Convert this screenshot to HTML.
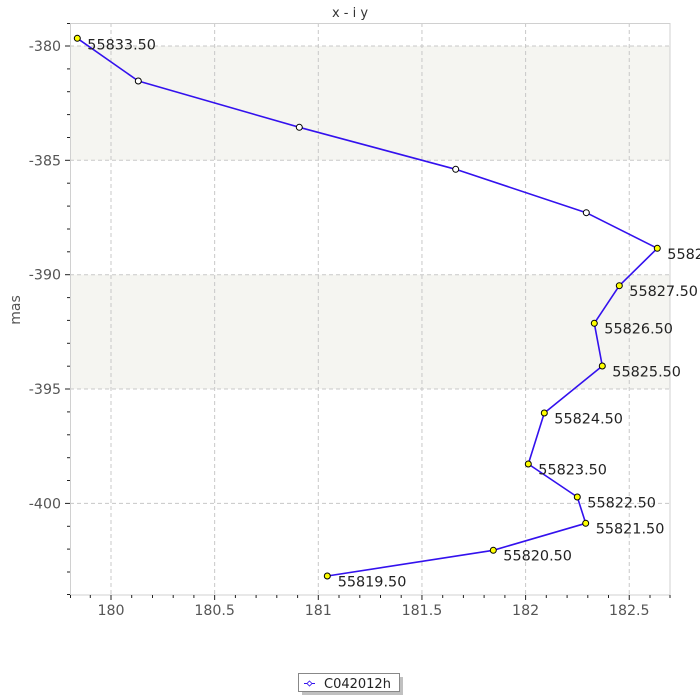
<!DOCTYPE html>
<html><head><meta charset="utf-8"><style>
html,body{margin:0;padding:0;background:#fff;}
svg{display:block;}
text{font-family:"DejaVu Sans","Liberation Sans",sans-serif;}
</style></head><body>
<svg width="700" height="700" viewBox="0 0 700 700" xmlns="http://www.w3.org/2000/svg">
<rect x="0" y="0" width="700" height="700" fill="#fff"/>
<text x="350" y="17" font-size="13" fill="#333" text-anchor="middle">x - i y</text>
<!-- bands -->
<rect x="70" y="46" width="600" height="114.3" fill="#f5f5f1"/>
<rect x="70" y="274.7" width="600" height="114.3" fill="#f5f5f1"/>
<!-- grid -->
<g stroke="#c8c8c8" stroke-width="1" stroke-dasharray="4,3" fill="none">
<line x1="111" y1="23" x2="111" y2="595"/>
<line x1="214.65" y1="23" x2="214.65" y2="595"/>
<line x1="318.3" y1="23" x2="318.3" y2="595"/>
<line x1="421.95" y1="23" x2="421.95" y2="595"/>
<line x1="525.6" y1="23" x2="525.6" y2="595"/>
<line x1="629.25" y1="23" x2="629.25" y2="595"/>
<line x1="70" y1="46" x2="670" y2="46"/>
<line x1="70" y1="160.3" x2="670" y2="160.3"/>
<line x1="70" y1="274.7" x2="670" y2="274.7"/>
<line x1="70" y1="389" x2="670" y2="389"/>
<line x1="70" y1="503.4" x2="670" y2="503.4"/>
</g>
<rect x="70.5" y="23.5" width="599.5" height="571.5" fill="none" stroke="#d0d0d0" stroke-width="1"/>
<!-- y ticks -->
<g stroke="#222" stroke-width="1">
<line x1="67" y1="23.5" x2="70" y2="23.5"/>
<line x1="65" y1="46" x2="70" y2="46"/>
<line x1="67" y1="68.9" x2="70" y2="68.9"/>
<line x1="67" y1="91.7" x2="70" y2="91.7"/>
<line x1="67" y1="114.6" x2="70" y2="114.6"/>
<line x1="67" y1="137.5" x2="70" y2="137.5"/>
<line x1="65" y1="160.3" x2="70" y2="160.3"/>
<line x1="67" y1="183.2" x2="70" y2="183.2"/>
<line x1="67" y1="206.1" x2="70" y2="206.1"/>
<line x1="67" y1="229" x2="70" y2="229"/>
<line x1="67" y1="251.8" x2="70" y2="251.8"/>
<line x1="65" y1="274.7" x2="70" y2="274.7"/>
<line x1="67" y1="297.6" x2="70" y2="297.6"/>
<line x1="67" y1="320.4" x2="70" y2="320.4"/>
<line x1="67" y1="343.3" x2="70" y2="343.3"/>
<line x1="67" y1="366.2" x2="70" y2="366.2"/>
<line x1="65" y1="389" x2="70" y2="389"/>
<line x1="67" y1="411.9" x2="70" y2="411.9"/>
<line x1="67" y1="434.8" x2="70" y2="434.8"/>
<line x1="67" y1="457.7" x2="70" y2="457.7"/>
<line x1="67" y1="480.5" x2="70" y2="480.5"/>
<line x1="65" y1="503.4" x2="70" y2="503.4"/>
<line x1="67" y1="526.3" x2="70" y2="526.3"/>
<line x1="67" y1="549.1" x2="70" y2="549.1"/>
<line x1="67" y1="572" x2="70" y2="572"/>
<line x1="67" y1="594.5" x2="70" y2="594.5"/>
</g>
<!-- x ticks -->
<g stroke="#222" stroke-width="1">
<line x1="70.5" y1="595" x2="70.5" y2="598"/>
<line x1="90.3" y1="595" x2="90.3" y2="598"/>
<line x1="111" y1="595" x2="111" y2="600"/>
<line x1="131.7" y1="595" x2="131.7" y2="598"/>
<line x1="152.5" y1="595" x2="152.5" y2="598"/>
<line x1="173.2" y1="595" x2="173.2" y2="598"/>
<line x1="193.9" y1="595" x2="193.9" y2="598"/>
<line x1="214.65" y1="595" x2="214.65" y2="600"/>
<line x1="235.4" y1="595" x2="235.4" y2="598"/>
<line x1="256.1" y1="595" x2="256.1" y2="598"/>
<line x1="276.8" y1="595" x2="276.8" y2="598"/>
<line x1="297.6" y1="595" x2="297.6" y2="598"/>
<line x1="318.3" y1="595" x2="318.3" y2="600"/>
<line x1="339" y1="595" x2="339" y2="598"/>
<line x1="359.8" y1="595" x2="359.8" y2="598"/>
<line x1="380.5" y1="595" x2="380.5" y2="598"/>
<line x1="401.2" y1="595" x2="401.2" y2="598"/>
<line x1="421.95" y1="595" x2="421.95" y2="600"/>
<line x1="442.7" y1="595" x2="442.7" y2="598"/>
<line x1="463.4" y1="595" x2="463.4" y2="598"/>
<line x1="484.1" y1="595" x2="484.1" y2="598"/>
<line x1="504.9" y1="595" x2="504.9" y2="598"/>
<line x1="525.6" y1="595" x2="525.6" y2="600"/>
<line x1="546.3" y1="595" x2="546.3" y2="598"/>
<line x1="567.1" y1="595" x2="567.1" y2="598"/>
<line x1="587.8" y1="595" x2="587.8" y2="598"/>
<line x1="608.5" y1="595" x2="608.5" y2="598"/>
<line x1="629.25" y1="595" x2="629.25" y2="600"/>
<line x1="650" y1="595" x2="650" y2="598"/>
<line x1="670" y1="595" x2="670" y2="598"/>
</g>
<!-- y tick labels -->
<g font-size="14.2" fill="#555" text-anchor="end">
<text x="61" y="51">-380</text>
<text x="61" y="165.3">-385</text>
<text x="61" y="279.7">-390</text>
<text x="61" y="394">-395</text>
<text x="61" y="508.4">-400</text>
</g>
<!-- x tick labels -->
<g font-size="14.2" fill="#555" text-anchor="middle">
<text x="111" y="615">180</text>
<text x="214.65" y="615">180.5</text>
<text x="318.3" y="615">181</text>
<text x="421.95" y="615">181.5</text>
<text x="525.6" y="615">182</text>
<text x="629.25" y="615">182.5</text>
</g>
<text transform="translate(20,310) rotate(-90)" font-size="14" fill="#555" text-anchor="middle">mas</text>
<!-- series -->
<svg x="70" y="23" width="600" height="572" viewBox="70 23 600 572" overflow="hidden">
<polyline fill="none" stroke="#3311ee" stroke-width="1.6" stroke-linejoin="round"
points="77.3,38.3 138.3,81 299.3,127.3 455.7,169.3 586.3,212.7 657.3,248.3 619.3,285.7 594.3,323.3 602.3,366 544.3,413 528.3,464 577.3,497 585.7,523.3 493.3,550.3 327.3,576"/>
<g stroke="#000" stroke-width="1">
<circle cx="77.3" cy="38.3" r="3" fill="#ffff00"/>
<circle cx="138.3" cy="81" r="3" fill="#fff"/>
<circle cx="299.3" cy="127.3" r="3" fill="#fff"/>
<circle cx="455.7" cy="169.3" r="3" fill="#fff"/>
<circle cx="586.3" cy="212.7" r="3" fill="#fff"/>
<circle cx="657.3" cy="248.3" r="3" fill="#ffff00"/>
<circle cx="619.3" cy="285.7" r="3" fill="#ffff00"/>
<circle cx="594.3" cy="323.3" r="3" fill="#ffff00"/>
<circle cx="602.3" cy="366" r="3" fill="#ffff00"/>
<circle cx="544.3" cy="413" r="3" fill="#ffff00"/>
<circle cx="528.3" cy="464" r="3" fill="#ffff00"/>
<circle cx="577.3" cy="497" r="3" fill="#ffff00"/>
<circle cx="585.7" cy="523.3" r="3" fill="#ffff00"/>
<circle cx="493.3" cy="550.3" r="3" fill="#ffff00"/>
<circle cx="327.3" cy="576" r="3" fill="#ffff00"/>
</g>
</svg>
<!-- point labels -->
<g font-size="14.4" fill="#222">
<text x="87.3" y="49.3">55833.50</text>
<text x="667.3" y="259">55828.50</text>
<text x="629.3" y="296">55827.50</text>
<text x="604.3" y="333.6">55826.50</text>
<text x="612.3" y="376.3">55825.50</text>
<text x="554.3" y="423.3">55824.50</text>
<text x="538.3" y="474.3">55823.50</text>
<text x="587.3" y="507.3">55822.50</text>
<text x="595.7" y="533.6">55821.50</text>
<text x="503.3" y="560.6">55820.50</text>
<text x="337.7" y="586.7">55819.50</text>
</g>
<!-- legend -->
<rect x="302" y="677" width="101" height="18" fill="#c0c0c0"/>
<rect x="298.5" y="673.5" width="101" height="18" fill="#fff" stroke="#888" stroke-width="1"/>
<line x1="304" y1="683.5" x2="315" y2="683.5" stroke="#3311ee" stroke-width="1"/>
<path d="M309.5,681 L312,683.5 L309.5,686 L307,683.5 Z" fill="#fff" stroke="#3311ee" stroke-width="0.8"/>
<text x="324" y="688" font-size="13" fill="#222">C042012h</text>
</svg>
</body></html>
